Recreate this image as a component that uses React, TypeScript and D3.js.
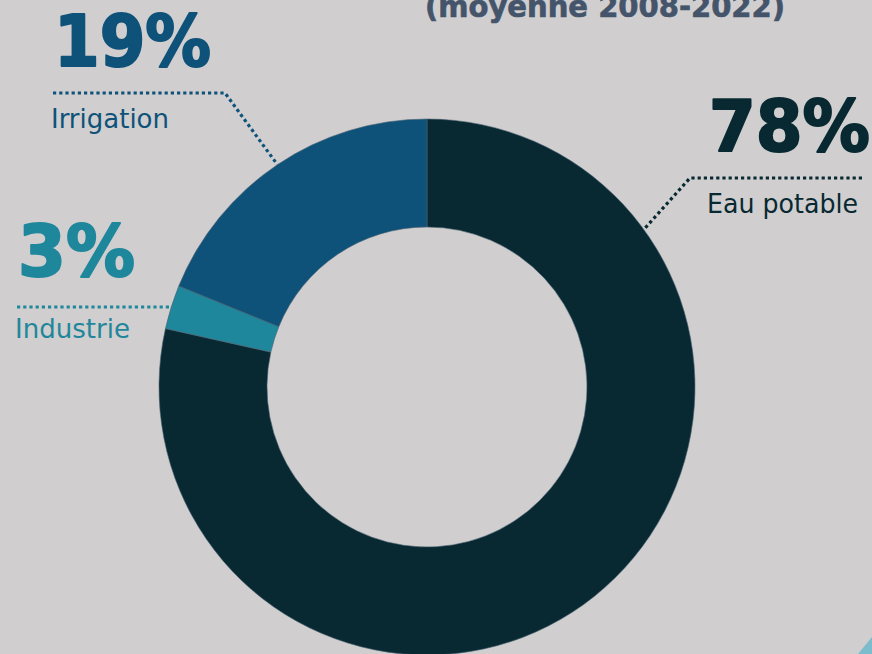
import React from "react";
import * as d3 from "d3";

const categories = ["Eau potable", "Industrie", "Irrigation"];
const values = [78.5, 2.65, 18.85];
const pctLabels = ["78%", "3%", "19%"];
const colors = ["#082931", "#1f879b", "#0e527a"];
const titleText = "(moyenne 2008-2022)";

const W = 872;
const H = 654;
const cx = 427;
const cy = 387;
const rOuter = 268;
const rInner = 160;
const FONT = "'DejaVu Sans Condensed', 'DejaVu Sans', Verdana, sans-serif";

type Slice = { name: string; value: number; color: string; pct: string };

export default function App() {
  const data: Slice[] = categories.map((c, i) => ({ name: c, value: values[i], color: colors[i], pct: pctLabels[i] }));
  const pie = d3.pie<Slice>().value((d) => d.value).sort(null).startAngle(0).endAngle(2 * Math.PI);
  const arcs = pie(data);
  const arc = d3.arc<d3.PieArcDatum<Slice>>().innerRadius(rInner).outerRadius(rOuter);

  const edge = (a: number) => [cx + rOuter * Math.sin(a), cy - rOuter * Math.cos(a)];
  const mid = (d: d3.PieArcDatum<Slice>) => (d.startAngle + d.endAngle) / 2;

  const eau = arcs[0];
  const ind = arcs[1];
  const irr = arcs[2];

  const irrEnd = edge(mid(irr));
  const indEnd = edge(mid(ind));
  const eauEnd = edge(eau.startAngle + (54 * Math.PI) / 180);

  const callouts = [
    {
      d: eau,
      px: 709, py: 151, pw: 161,
      pts: [[862, 178], [690, 178], eauEnd],
      lx: 707, ly: 213, lw: 151,
    },
    {
      d: ind,
      px: 18, py: 276, pw: 117,
      pts: [[17, indEnd[1]], indEnd],
      lx: 15, ly: 338, lw: 115,
    },
    {
      d: irr,
      px: 54, py: 66, pw: 157,
      pts: [[53, 93], [225, 93], irrEnd],
      lx: 51, ly: 128, lw: 118,
    },
  ];

  const line = d3.line();

  return (
    <svg width={W} height={H} style={{ position: "absolute", left: 0, top: 0, display: "block" }}>
      <rect x={0} y={0} width={W} height={H} fill="#d0cecf" />
      <text x={605} y={17} textAnchor="middle" fontFamily={FONT} fontWeight="bold" fontSize={30}
        fill="#44546a" stroke="#44546a" strokeWidth={0.6} textLength={360} lengthAdjust="spacingAndGlyphs">{titleText}</text>
      <g transform={`translate(${cx},${cy})`}>
        {arcs.map((a, i) => (
          <path key={i} d={arc(a) || ""} fill={a.data.color} stroke="#4a6272" strokeWidth={0.6} />
        ))}
      </g>
      {callouts.map((c, i) => (
        <g key={i}>
          <path d={line(c.pts as [number, number][]) || ""} fill="none" stroke={c.d.data.color}
            strokeWidth={3.2} strokeDasharray="3.2 3" />
          <text x={c.px} y={c.py} fontFamily={FONT} fontWeight="bold" fontSize={72} fill={c.d.data.color}
            stroke={c.d.data.color} strokeWidth={2} strokeLinejoin="round"
            textLength={c.pw} lengthAdjust="spacingAndGlyphs">{c.d.data.pct}</text>
          <text x={c.lx} y={c.ly} fontFamily={FONT} fontSize={27} fill={c.d.data.color}
            textLength={c.lw} lengthAdjust="spacingAndGlyphs">{c.d.data.name}</text>
        </g>
      ))}
      <polygon points={`${W},637 858,${H} ${W},${H}`} fill="#7bbccd" />
    </svg>
  );
}
